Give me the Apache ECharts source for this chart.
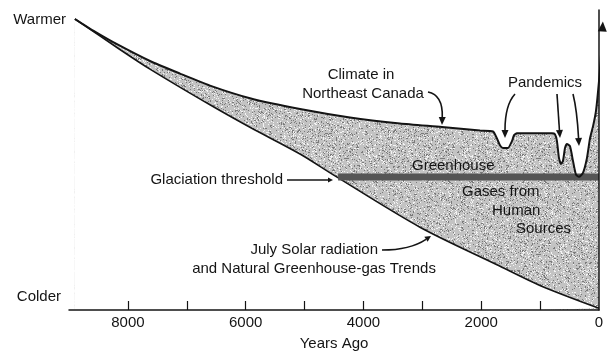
<!DOCTYPE html>
<html><head><meta charset="utf-8">
<script src="https://cdn.jsdelivr.net/npm/echarts@6/dist/echarts.min.js"></script>
<style>html,body{margin:0;padding:0;background:#fff}#c{width:613px;height:356px}</style>
</head><body><div id="c"></div>
<script>
// ---- data (years ago, relative warmth 0..100) ----
const xTickValues = [1000, 2000, 3000, 4000, 5000, 6000, 7000, 8000];
const xLabelValues = [0, 2000, 4000, 6000, 8000];
const upperYears  = [8900, 8560, 8185, 7625, 7115, 6606, 5927, 5077, 4229, 3380, 2667, 2021, 1801, 1733, 1682, 1631, 1546, 1478, 1444, 1393, 799, 748, 714, 680, 646, 612, 578, 544, 493, 442, 391, 340, 272, 204, 153, 102, 51, 0, -34, -56];
const upperValues = [97.0, 92.8, 88.6, 83.0, 78.8, 74.8, 70.6, 67.0, 64.2, 62.2, 61.0, 59.8, 59.5, 57.2, 54.9, 54.0, 54.0, 56.3, 58.2, 58.9, 58.9, 58.6, 56.3, 50.7, 48.7, 49.7, 53.9, 55.3, 54.6, 49.7, 45.1, 44.4, 45.7, 50.7, 57.2, 61.2, 66.4, 76.3, 85.2, 92.8];
const lowerYears  = [8900, 8185, 7625, 6606, 5927, 5077, 4483, 3040, 1733, 1003, 0];
const lowerValues = [97.0, 87.5, 80.3, 68.4, 60.9, 52.0, 44.7, 27.6, 15.1, 8.2, 0.6];
const thresholdYears = [4430, 0];
const thresholdValues = [44.3, 44.3];

const FONT = '"Liberation Sans", Arial, Helvetica, sans-serif';
const INK = '#141414';

function zip(a, b) { return a.map((v, i) => [v, b[i]]); }

// stipple texture (deterministic)
function makeTexture(base, dark, light, seed, n) {
  const c = document.createElement('canvas'); c.width = c.height = 96;
  const ctx = c.getContext('2d');
  ctx.fillStyle = base; ctx.fillRect(0, 0, 96, 96);
  let s = seed >>> 0;
  const rnd = () => { s = (Math.imul(s, 1103515245) + 12345) >>> 0; return (s >>> 8) / 16777216; };
  for (let i = 0; i < n; i++) {
    ctx.fillStyle = rnd() < 0.5 ? dark : light;
    ctx.fillRect(Math.floor(rnd() * 96), Math.floor(rnd() * 96), 1, 1);
  }
  return c;
}
const stipple = makeTexture('#c3c3c3', '#7a7a7a', '#f4f4f4', 12345, 2400);

const upperAll = zip(upperYears, upperValues);
const upperFill = upperAll.filter(p => p[0] >= 0);

const chart = echarts.init(document.getElementById('c'), null, {renderer: 'canvas'});
chart.setOption({
  animation: false,
  backgroundColor: '#fff',
  grid: {left: 69, right: 14, top: 10, bottom: 42},
  xAxis: {
    type: 'value', inverse: true, min: 0, max: 9000, interval: 1000, z: 5,
    axisLine: {lineStyle: {color: INK, width: 1.5}},
    axisTick: {inside: true, length: 9, customValues: xTickValues, lineStyle: {color: INK, width: 1.2}},
    axisLabel: {
      color: INK, fontSize: 15, fontFamily: FONT, margin: 5,
      formatter: v => xLabelValues.indexOf(v) >= 0 ? String(v) : ''
    },
    splitLine: {show: false},
    name: 'Years Ago', nameLocation: 'middle', nameGap: 26,
    nameTextStyle: {color: INK, fontSize: 15, fontFamily: FONT}
  },
  yAxis: {
    type: 'value', min: 0, max: 100, z: 5,
    axisLine: {show: true, lineStyle: {color: INK, width: 1.5}},
    axisTick: {show: false}, axisLabel: {show: false}, splitLine: {show: false}
  },
  series: [
    {
      type: 'line', data: upperFill, smooth: 0.2, symbol: 'none', silent: true, z: 1,
      lineStyle: {width: 0}, areaStyle: {color: {image: stipple, repeat: 'repeat'}, opacity: 1}
    },
    {
      type: 'line', data: zip(lowerYears, lowerValues), smooth: 0.3, symbol: 'none', silent: true, z: 2,
      lineStyle: {color: INK, width: 1.6}, areaStyle: {color: '#ffffff', opacity: 1}
    },
    {
      type: 'line', data: zip(thresholdYears, thresholdValues), symbol: 'none', silent: true, z: 3,
      lineStyle: {color: '#555555', width: 7, cap: 'butt'}
    },
    {
      type: 'line', data: upperAll, smooth: 0.2, symbol: 'none', silent: true, z: 4, clip: false,
      lineStyle: {color: INK, width: 2}
    }
  ]
});

// ---- annotations ----
function arrow(x1, y1, cx, cy, x2, y2, L, W) {
  L = L || 8; W = W || 3.5;
  const ang = Math.atan2(y2 - cy, x2 - cx);
  const bx = x2 - L * Math.cos(ang), by = y2 - L * Math.sin(ang);
  return [
    {type: 'bezierCurve', z: 10, shape: {x1: x1, y1: y1, x2: bx, y2: by, cpx1: cx, cpy1: cy},
     style: {stroke: INK, lineWidth: 1.6, fill: 'none'}},
    {type: 'polygon', z: 10, shape: {points: [[x2, y2],
      [bx - W * Math.sin(ang), by + W * Math.cos(ang)],
      [bx + W * Math.sin(ang), by - W * Math.cos(ang)]]}, style: {fill: INK}}
  ];
}
function txt(t, x, y, align) {
  return {type: 'text', z: 10, x: x, y: y, style: {text: t, font: '15px ' + FONT, fill: INK,
    align: align || 'left', verticalAlign: 'middle'}};
}
// arrowhead at the end of the climate curve
const pA = chart.convertToPixel({gridIndex: 0}, upperAll[upperAll.length - 2]);
const pB = chart.convertToPixel({gridIndex: 0}, upperAll[upperAll.length - 1]);
const ang = Math.atan2(pB[1] - pA[1], pB[0] - pA[0]);
const tip = [pB[0] + 10 * Math.cos(ang), pB[1] + 10 * Math.sin(ang)];
const headW = 4.5;
const g = [
  {type: 'polygon', z: 10, shape: {points: [tip,
    [pB[0] - headW * Math.sin(ang), pB[1] + headW * Math.cos(ang)],
    [pB[0] + headW * Math.sin(ang), pB[1] - headW * Math.cos(ang)]]}, style: {fill: INK}},
  txt('Warmer', 66, 20, 'right'),
  txt('Colder', 61, 297, 'right'),
  txt('Climate in', 361, 75, 'center'),
  txt('Northeast Canada', 363, 94, 'center'),
  txt('Pandemics', 545, 83, 'center'),
  txt('Greenhouse', 412, 166),
  txt('Gases from', 462, 192),
  txt('Human', 492, 211),
  txt('Sources', 516, 229),
  txt('Glaciation threshold', 283, 180, 'right'),
  txt('July Solar radiation', 378, 250, 'right'),
  txt('and Natural Greenhouse-gas Trends', 314, 269, 'center')
]
.concat(arrow(428, 92, 443, 95, 442, 125))
.concat(arrow(515, 94, 505, 105, 505, 138))
.concat(arrow(557, 94, 558, 110, 560, 138))
.concat(arrow(573, 94, 577, 110, 579, 146))
.concat(arrow(287, 180, 310, 180, 333, 180, 5, 2.5))
.concat(arrow(382, 250, 410, 250, 431, 236, 6, 3));
chart.setOption({graphic: g});
</script></body></html>
